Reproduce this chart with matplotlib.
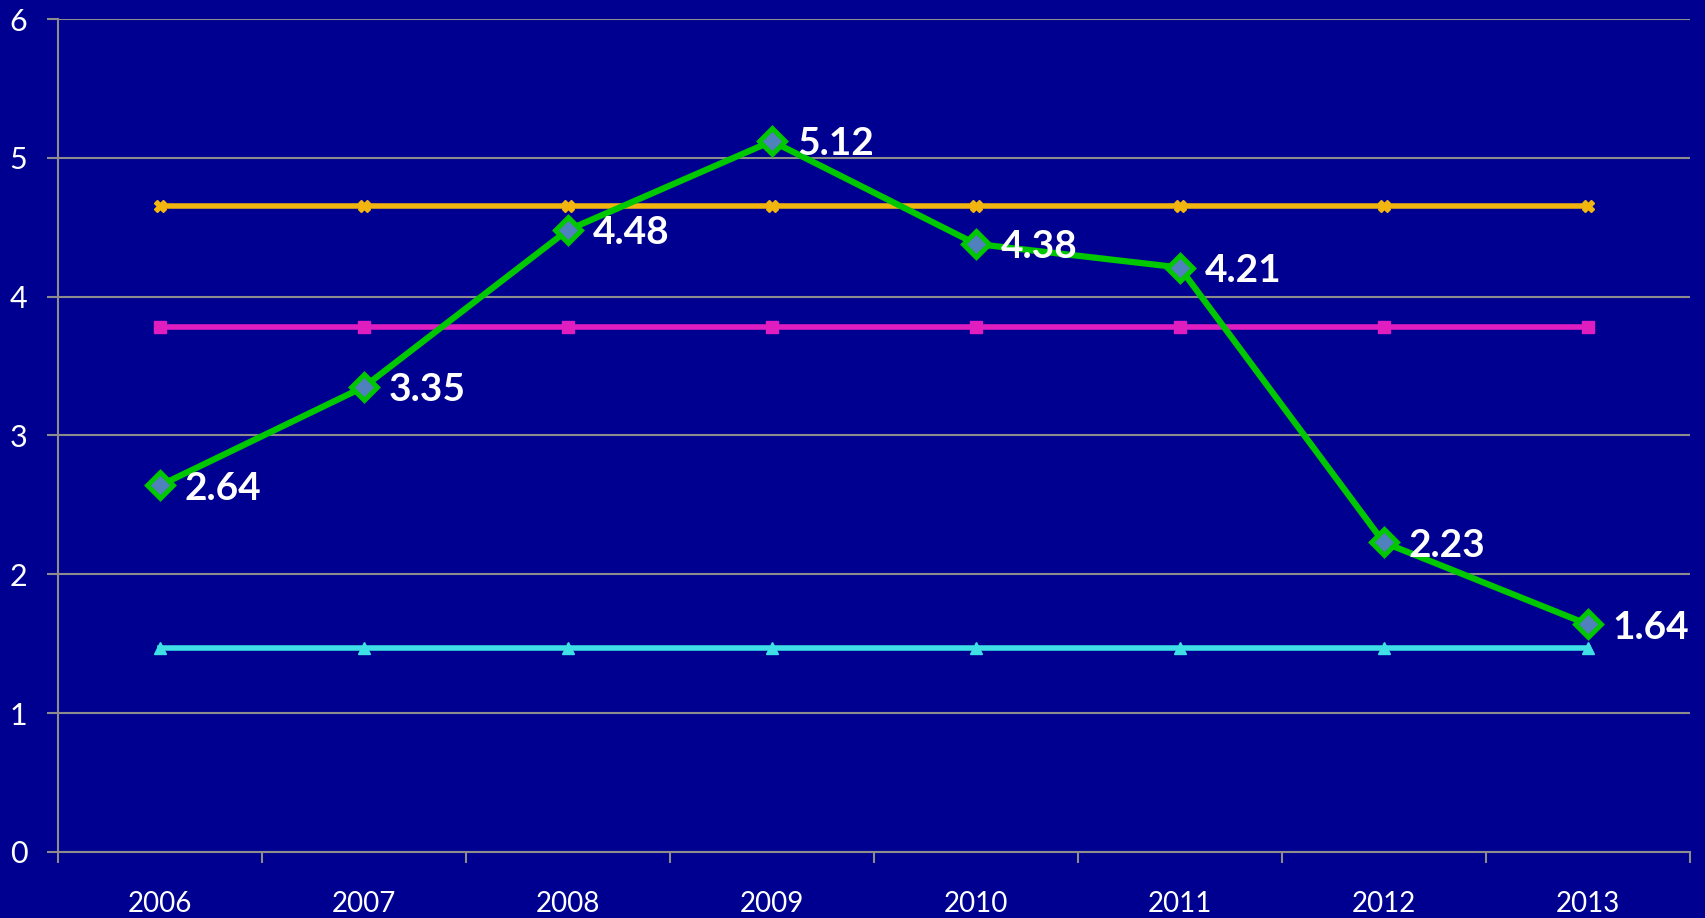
import numpy as np
import matplotlib
matplotlib.use("Agg")
import matplotlib.pyplot as plt

# Dane
years = ['2006', '2007', '2008', '2009', '2010', '2011', '2012', '2013']
values = [2.64, 3.35, 4.48, 5.12, 4.38, 4.21, 2.23, 1.64]
level_orange = [4.65] * 8
level_magenta = [3.78] * 8
level_cyan = [1.47] * 8

bg = '#000090'
grid_col = '#8c8c8c'

plt.rcParams['font.family'] = ['Lato', 'DejaVu Sans']

fig = plt.figure(figsize=(17.05, 9.18), dpi=100, facecolor=bg)
ax = fig.add_axes([0.034, 0.0719, 0.957, 0.9074])
ax.set_facecolor(bg)

x = np.arange(len(years)) + 0.5

ax.plot(x, level_orange, color='#f2b40f', linewidth=4, marker='X', markersize=9, zorder=3)
ax.plot(x, level_magenta, color='#e01ec0', linewidth=4, marker='s', markersize=8, zorder=3)
ax.plot(x, level_cyan, color='#3ee0e6', linewidth=4, marker='^', markersize=8, zorder=3)
ax.plot(x, values, color='#00c800', linewidth=4.5, marker='D', markersize=13,
        markerfacecolor='#4f81bd', markeredgecolor='#00c800', markeredgewidth=3.5, zorder=4)

for xi, v in zip(x, values):
    ax.annotate(f'{v:.2f}', (xi, v), xytext=(18, -2), textcoords='offset points',
                color='white', fontsize=28, fontweight='bold', va='center', ha='left', zorder=5)

ax.set_xlim(0, len(years))
ax.set_ylim(0, 6)
ax.set_yticks(range(0, 7))
ax.yaxis.grid(True, color=grid_col, linewidth=1.5)
ax.set_axisbelow(True)

# podziałki między kategoriami, etykiety w środku
ax.set_xticks(np.arange(0, len(years) + 1))
ax.set_xticklabels([])
ax.set_xticks(x, minor=True)
ax.set_xticklabels(years, minor=True)
ax.tick_params(axis='x', which='major', length=8, width=1.5, color=grid_col)
ax.tick_params(axis='x', which='minor', length=0, pad=28, labelsize=20, labelcolor='white')
ax.tick_params(axis='y', length=8, width=1.5, color=grid_col, labelsize=22, labelcolor='white', pad=14)

for s in ['top', 'right']:
    ax.spines[s].set_visible(False)
for s in ['left', 'bottom']:
    ax.spines[s].set_color(grid_col)
    ax.spines[s].set_linewidth(1.5)

fig.savefig('out.png', dpi=100, facecolor=bg)
